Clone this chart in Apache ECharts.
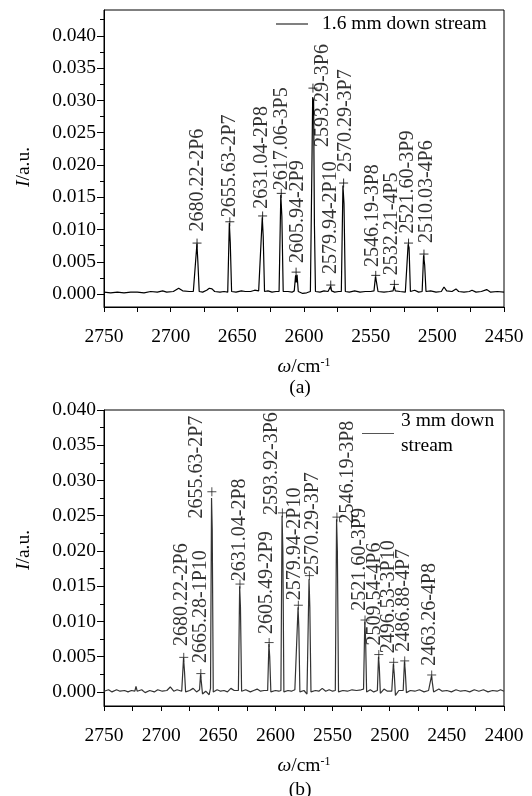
<!DOCTYPE html>
<html>
<head>
<meta charset="utf-8">
<script src="https://cdn.jsdelivr.net/npm/echarts@6/dist/echarts.min.js"></script>
<style>
html, body { margin: 0; padding: 0; background: #fff; }
#main { width: 532px; height: 796px; }
</style>
</head>
<body>
<div id="main"></div>
<script>
// spectrum (a): [wavenumber, intensity]
const specA = [
    [2750, 0.0003], [2745, 0.0002], [2740, 0.0003], [2735, 0.0002], [2730, 0.0003],
    [2725, 0.0003], [2720, 0.0002], [2715, 0.0004], [2710, 0.0003], [2706, 0.0005],
    [2703, 0.0003], [2698, 0.0004], [2694, 0.0009], [2691, 0.0005], [2686, 0.0004],
    [2683, 0.0004], [2681.6, 0.0004], [2680.3, 0.0078], [2679.6, 0.0050], [2678.6, 0.0004],
    [2676, 0.0003], [2673, 0.0006], [2671, 0.0009], [2669, 0.0008], [2667, 0.0004],
    [2663, 0.0003], [2660, 0.0004], [2657.2, 0.0003], [2656.0, 0.0110], [2655.3, 0.0080],
    [2654.3, 0.0004], [2651, 0.0003], [2647, 0.0005], [2644, 0.0004], [2640, 0.0004],
    [2637, 0.0006], [2634, 0.0005], [2632.6, 0.0004], [2631.3, 0.0119], [2630.6, 0.0090],
    [2629.6, 0.0004], [2627, 0.0005], [2624, 0.0003], [2621, 0.0004], [2618.7, 0.0004],
    [2617.4, 0.0154], [2616.6, 0.0120], [2615.6, 0.0004], [2612, 0.0004], [2609, 0.0003],
    [2607.3, 0.0005], [2606.3, 0.0029], [2605.8, 0.0018], [2605.2, 0.0030], [2604.3, 0.0004],
    [2601, 0.0001], [2598, 0.0002], [2595.2, 0.0004], [2594.0, 0.0210], [2593.5, 0.0305],
    [2592.8, 0.0300], [2592.2, 0.0110], [2591.4, 0.0004], [2588, 0.0003], [2585, 0.0005],
    [2582, 0.0004], [2580.6, 0.0006], [2580.0, 0.0012], [2579.3, 0.0005], [2577, 0.0003],
    [2574, 0.0004], [2572, 0.0004], [2570.8, 0.0168], [2570.0, 0.0140], [2569.0, 0.0004],
    [2566, 0.0003], [2562, 0.0005], [2558, 0.0003], [2554, 0.0004], [2550, 0.0004],
    [2547.5, 0.0005], [2546.4, 0.0027], [2545.6, 0.0018], [2544.5, 0.0004], [2540, 0.0003],
    [2536, 0.0004], [2533.2, 0.0005], [2532.4, 0.0012], [2531.5, 0.0005], [2528, 0.0004],
    [2524, 0.0003], [2522.8, 0.0005], [2521.9, 0.0077], [2521.2, 0.0072], [2520.2, 0.0004],
    [2517, 0.0006], [2514, 0.0003], [2511.4, 0.0004], [2510.3, 0.0060], [2509.5, 0.0045],
    [2508.5, 0.0004], [2505, 0.0005], [2501, 0.0003], [2497, 0.0004], [2495, 0.0011],
    [2493, 0.0005], [2489, 0.0004], [2486, 0.0008], [2484, 0.0004], [2480, 0.0003],
    [2476, 0.0004], [2474, 0.0006], [2471, 0.0003], [2467, 0.0004], [2463, 0.0007],
    [2460, 0.0003], [2455, 0.0004], [2450, 0.0003]
];

// spectrum (b)
const specB = [
    [2750, 0.0001], [2746, 0.0003], [2743, 0.0000], [2739, 0.0003], [2736, 0.0001],
    [2732, 0.0002], [2729, 0.0000], [2726, 0.0002], [2723, 0.0001], [2722, 0.0008],
    [2721, 0.0001], [2717, 0.0003], [2714, -0.0001], [2710, 0.0002], [2706, 0.0000],
    [2703, 0.0003], [2699, 0.0001], [2695, 0.0002], [2692, 0.0007], [2689, 0.0001],
    [2686, 0.0003], [2682, 0.0001], [2681.2, 0.0003], [2680.4, 0.0048], [2679.6, 0.0030],
    [2678.6, 0.0000], [2675, 0.0002], [2672, 0.0005], [2669, 0.0000], [2666.4, 0.0003],
    [2665.5, 0.0025], [2664.7, 0.0012], [2663.8, -0.0003], [2661, 0.0001], [2658, -0.0004],
    [2656.8, 0.0005], [2655.9, 0.0275], [2655.3, 0.0230], [2654.4, 0.0000], [2651, 0.0003],
    [2648, 0.0001], [2645, 0.0002], [2642, 0.0000], [2639, 0.0005], [2636, 0.0002],
    [2632.4, 0.0002], [2631.3, 0.0150], [2630.6, 0.0120], [2629.6, 0.0001], [2626, 0.0003],
    [2622, 0.0000], [2619, 0.0002], [2616, 0.0004], [2613, 0.0001], [2610, 0.0002],
    [2606.8, 0.0002], [2605.7, 0.0068], [2605.0, 0.0050], [2604.0, 0.0000], [2600, 0.0002],
    [2597, 0.0001], [2595.2, 0.0002], [2594.2, 0.0250], [2593.5, 0.0200], [2592.6, 0.0000],
    [2589, 0.0002], [2586, 0.0001], [2583, 0.0003], [2581.3, 0.0002], [2580.2, 0.0120],
    [2579.5, 0.0090], [2578.6, 0.0000], [2575, 0.0002], [2572.4, -0.0003], [2570.6, 0.0160],
    [2569.9, 0.0120], [2568.9, 0.0000], [2565, 0.0002], [2562, 0.0001], [2559, 0.0005],
    [2556, 0.0001], [2553, 0.0003], [2550, 0.0001], [2547.6, 0.0002], [2546.5, 0.0245],
    [2545.8, 0.0200], [2544.8, 0.0000], [2541, 0.0002], [2537, 0.0001], [2533, 0.0003],
    [2529, 0.0002], [2525, 0.0003], [2522.9, 0.0004], [2521.8, 0.0100], [2521.1, 0.0075],
    [2520.2, 0.0000], [2517, 0.0003], [2514, 0.0000], [2510.8, 0.0002], [2509.8, 0.0050],
    [2509.1, 0.0035], [2508.2, -0.0002], [2505, 0.0004], [2502, 0.0001], [2498.2, 0.0001],
    [2496.8, 0.0040], [2496.0, 0.0025], [2495.0, -0.0005], [2492, 0.0002], [2488.2, 0.0002],
    [2487.1, 0.0043], [2486.4, 0.0030], [2485.4, -0.0001], [2482, 0.0002], [2478, 0.0001],
    [2474, 0.0003], [2470, 0.0000], [2466, 0.0002], [2464.3, 0.0003], [2463.4, 0.0023],
    [2462.6, 0.0012], [2461.6, 0.0000], [2457, 0.0004], [2454, 0.0001], [2450, 0.0002],
    [2446, 0.0000], [2442, 0.0003], [2438, 0.0001], [2434, 0.0002], [2430, 0.0000],
    [2426, 0.0003], [2422, 0.0001], [2418, 0.0003], [2414, 0.0000], [2410, 0.0002],
    [2406, 0.0001], [2403, 0.0003], [2400, 0.0001]
];

// peak assignments (a)
const namesA = ['2680.22-2P6', '2655.63-2P7', '2631.04-2P8', '2617.06-3P5', '2605.94-2P9', '2593.29-3P6',
    '2579.94-2P10', '2570.29-3P7', '2546.19-3P8', '2532.21-4P5', '2521.60-3P9', '2510.03-4P6'];
const markWaveA = [2680.22, 2655.63, 2631.04, 2617.06, 2605.94, 2593.29, 2579.94, 2570.29, 2546.19, 2532.21, 2521.60, 2510.03];
const markIntA = [0.0079, 0.0112, 0.0121, 0.0156, 0.0034, 0.0319, 0.0014, 0.0172, 0.0029, 0.0015, 0.0079, 0.0062];
const labelWaveA = [2679.5, 2655.5, 2631.9, 2616.9, 2604.5, 2586.2, 2579.75, 2568.5, 2548.25, 2534.4, 2522, 2508.1];
const labelIntA = [0.0097, 0.0119, 0.0132, 0.0161, 0.0048, 0.0228, 0.0031, 0.0189, 0.0042, 0.0029, 0.0094, 0.0079];

// peak assignments (b)
const namesB = ['2680.22-2P6', '2665.28-1P10', '2655.63-2P7', '2631.04-2P8', '2605.49-2P9', '2593.92-3P6',
    '2579.94-2P10', '2570.29-3P7', '2546.19-3P8', '2521.60-3P9', '2509.54-4P6', '2496.53-3P10',
    '2486.88-4P7', '2463.26-4P8'];
const markWaveB = [2680.22, 2665.28, 2655.63, 2631.04, 2605.49, 2593.92, 2579.94, 2570.29, 2546.19, 2521.60, 2509.54, 2496.53, 2486.88, 2463.26];
const markIntB = [0.0049, 0.0026, 0.0284, 0.0153, 0.0070, 0.0254, 0.0123, 0.0165, 0.0248, 0.0102, 0.0053, 0.0042, 0.0044, 0.0024];
const labelWaveB = [2681.75, 2665.1, 2668.9, 2631.0, 2607.4, 2603.3, 2582.9, 2567.1, 2536.9, 2526.0, 2512.9, 2500.6, 2487.5, 2464.75];
const labelIntB = [0.0065, 0.0041, 0.0246, 0.0157, 0.0082, 0.0251, 0.0130, 0.0166, 0.0239, 0.0115, 0.0066, 0.0055, 0.0057, 0.0037];

const yTicks = [0, 0.005, 0.010, 0.015, 0.020, 0.025, 0.030, 0.035, 0.040];
const yMinorA = [0.0025, 0.0075, 0.0125, 0.0175, 0.0225, 0.0275, 0.0325, 0.0375, 0.0425];
const yMinorB = [0.0025, 0.0075, 0.0125, 0.0175, 0.0225, 0.0275, 0.0325, 0.0375];

const legendA = '1.6 mm down stream';
const legendB = '3 mm down stream';

const FONT = "'Liberation Serif', 'Times New Roman', serif";
const FS = 19.5;

function pairs(xs, ys, names) {
    let out = [];
    for (let i = 0; i < xs.length; i++) {
        out.push({ name: names ? names[i] : '', value: [xs[i], ys[i]] });
    }
    return out;
}

function xAxisFor(gridIndex, min) {
    return {
        type: 'value', gridIndex: gridIndex, min: min, max: 2750, inverse: true, interval: 25,
        axisLine: { show: true, onZero: false, lineStyle: { color: '#000', width: 1 } },
        axisTick: { show: true, length: 5, lineStyle: { color: '#000' } },
        axisLabel: {
            formatter: v => (v % 50 === 0 ? String(v) : ''),
            fontSize: FS, fontFamily: FONT, color: '#000', margin: 20
        },
        splitLine: { show: false },
        name: '{i|\u03c9}/cm{s|-1}', nameLocation: 'middle', nameGap: 50,
        nameTextStyle: {
            fontSize: FS, fontFamily: FONT, color: '#000',
            rich: {
                i: { fontStyle: 'italic', fontSize: FS, fontFamily: FONT, color: '#000' },
                s: { fontSize: 12, fontFamily: FONT, color: '#000', verticalAlign: 'top' }
            }
        }
    };
}

function yMajor(gridIndex, max, pad) {
    return {
        type: 'value', gridIndex: gridIndex, min: -0.002, max: max,
        axisLine: { show: true, onZero: false, lineStyle: { color: '#000', width: 1 } },
        axisTick: { show: true, length: 7, customValues: yTicks, lineStyle: { color: '#000' } },
        axisLabel: {
            customValues: yTicks, formatter: v => v.toFixed(3),
            fontSize: FS, fontFamily: FONT, color: '#000', margin: 8
        },
        splitLine: { show: false },
        name: '{i|I}/a.u.', nameLocation: 'middle', nameGap: 70,
        nameTextStyle: {
            fontSize: FS, fontFamily: FONT, color: '#000', padding: pad,
            rich: { i: { fontStyle: 'italic', fontSize: FS, fontFamily: FONT, color: '#000' } }
        }
    };
}

function yMinor(gridIndex, max, vals) {
    return {
        type: 'value', gridIndex: gridIndex, min: -0.002, max: max, position: 'left',
        axisLine: { show: false, onZero: false },
        axisTick: { show: true, length: 4, customValues: vals, lineStyle: { color: '#000' } },
        axisLabel: { show: false },
        splitLine: { show: false }
    };
}

function markerSeries(xIdx, yIdx, data, color) {
    return {
        type: 'scatter', xAxisIndex: xIdx, yAxisIndex: yIdx, silent: true,
        symbol: 'path://M0,5L10,5M5,0L5,10', symbolSize: 9,
        itemStyle: { color: 'none', borderColor: color, borderWidth: 1 },
        data: data, z: 3
    };
}

function labelSeries(xIdx, yIdx, data) {
    return {
        type: 'scatter', xAxisIndex: xIdx, yAxisIndex: yIdx, silent: true,
        symbol: 'circle', symbolSize: 1,
        itemStyle: { color: 'rgba(0,0,0,0)' },
        label: {
            show: true, position: 'inside', formatter: '{b}', rotate: 90,
            align: 'left', verticalAlign: 'middle',
            fontSize: 20, fontFamily: FONT, color: '#000'
        },
        data: data, z: 4
    };
}

let chart = echarts.init(document.getElementById('main'), null, { renderer: 'canvas' });

let option = {
    animation: false,
    backgroundColor: '#fff',
    grid: [
        { left: 104, top: 10, width: 400, height: 297, show: true, borderColor: '#000', borderWidth: 1 },
        { left: 104, top: 410, width: 400, height: 296, show: true, borderColor: '#000', borderWidth: 1 }
    ],
    legend: [
        {
            data: [legendA], left: 276, top: 12, padding: 0, itemWidth: 32, itemHeight: 1, icon: 'rect',
            itemStyle: { color: '#000', borderWidth: 0 },
            textStyle: { fontSize: FS, fontFamily: FONT, color: '#000', lineHeight: 24, padding: [0, 0, 0, 9] }
        },
        {
            data: [legendB], left: 362, top: 396, padding: 0, itemWidth: 32, itemHeight: 1, icon: 'rect',
            itemStyle: { color: '#555', borderWidth: 0 },
            formatter: () => '3 mm down\nstream',
            textStyle: { fontSize: FS, fontFamily: FONT, color: '#000', lineHeight: 25, padding: [25, 0, 0, 2] }
        }
    ],
    xAxis: [xAxisFor(0, 2450), xAxisFor(1, 2400)],
    yAxis: [
        yMajor(0, 0.044, [0, 17, 0, 0]),
        yMinor(0, 0.044, yMinorA),
        yMajor(1, 0.040, [0, 0, 0, 16]),
        yMinor(1, 0.040, yMinorB)
    ],
    graphic: [
        { type: 'text', x: 300, y: 388, style: { text: '(a)', font: FS + 'px ' + FONT, fill: '#000', textAlign: 'center', textVerticalAlign: 'middle' } },
        { type: 'text', x: 300, y: 790, style: { text: '(b)', font: FS + 'px ' + FONT, fill: '#000', textAlign: 'center', textVerticalAlign: 'middle' } }
    ],
    series: [
        {
            name: legendA, type: 'line', xAxisIndex: 0, yAxisIndex: 0, symbol: 'none',
            lineStyle: { color: '#000', width: 1.2 }, itemStyle: { color: '#000' },
            data: specA, z: 2
        },
        markerSeries(0, 0, pairs(markWaveA, markIntA), '#000'),
        labelSeries(0, 0, pairs(labelWaveA, labelIntA, namesA)),
        {
            name: legendB, type: 'line', xAxisIndex: 1, yAxisIndex: 2, symbol: 'none',
            lineStyle: { color: '#333', width: 1.2 }, itemStyle: { color: '#333' },
            data: specB, z: 2
        },
        markerSeries(1, 2, pairs(markWaveB, markIntB), '#222'),
        labelSeries(1, 2, pairs(labelWaveB, labelIntB, namesB))
    ]
};

chart.setOption(option);
</script>
</body>
</html>
